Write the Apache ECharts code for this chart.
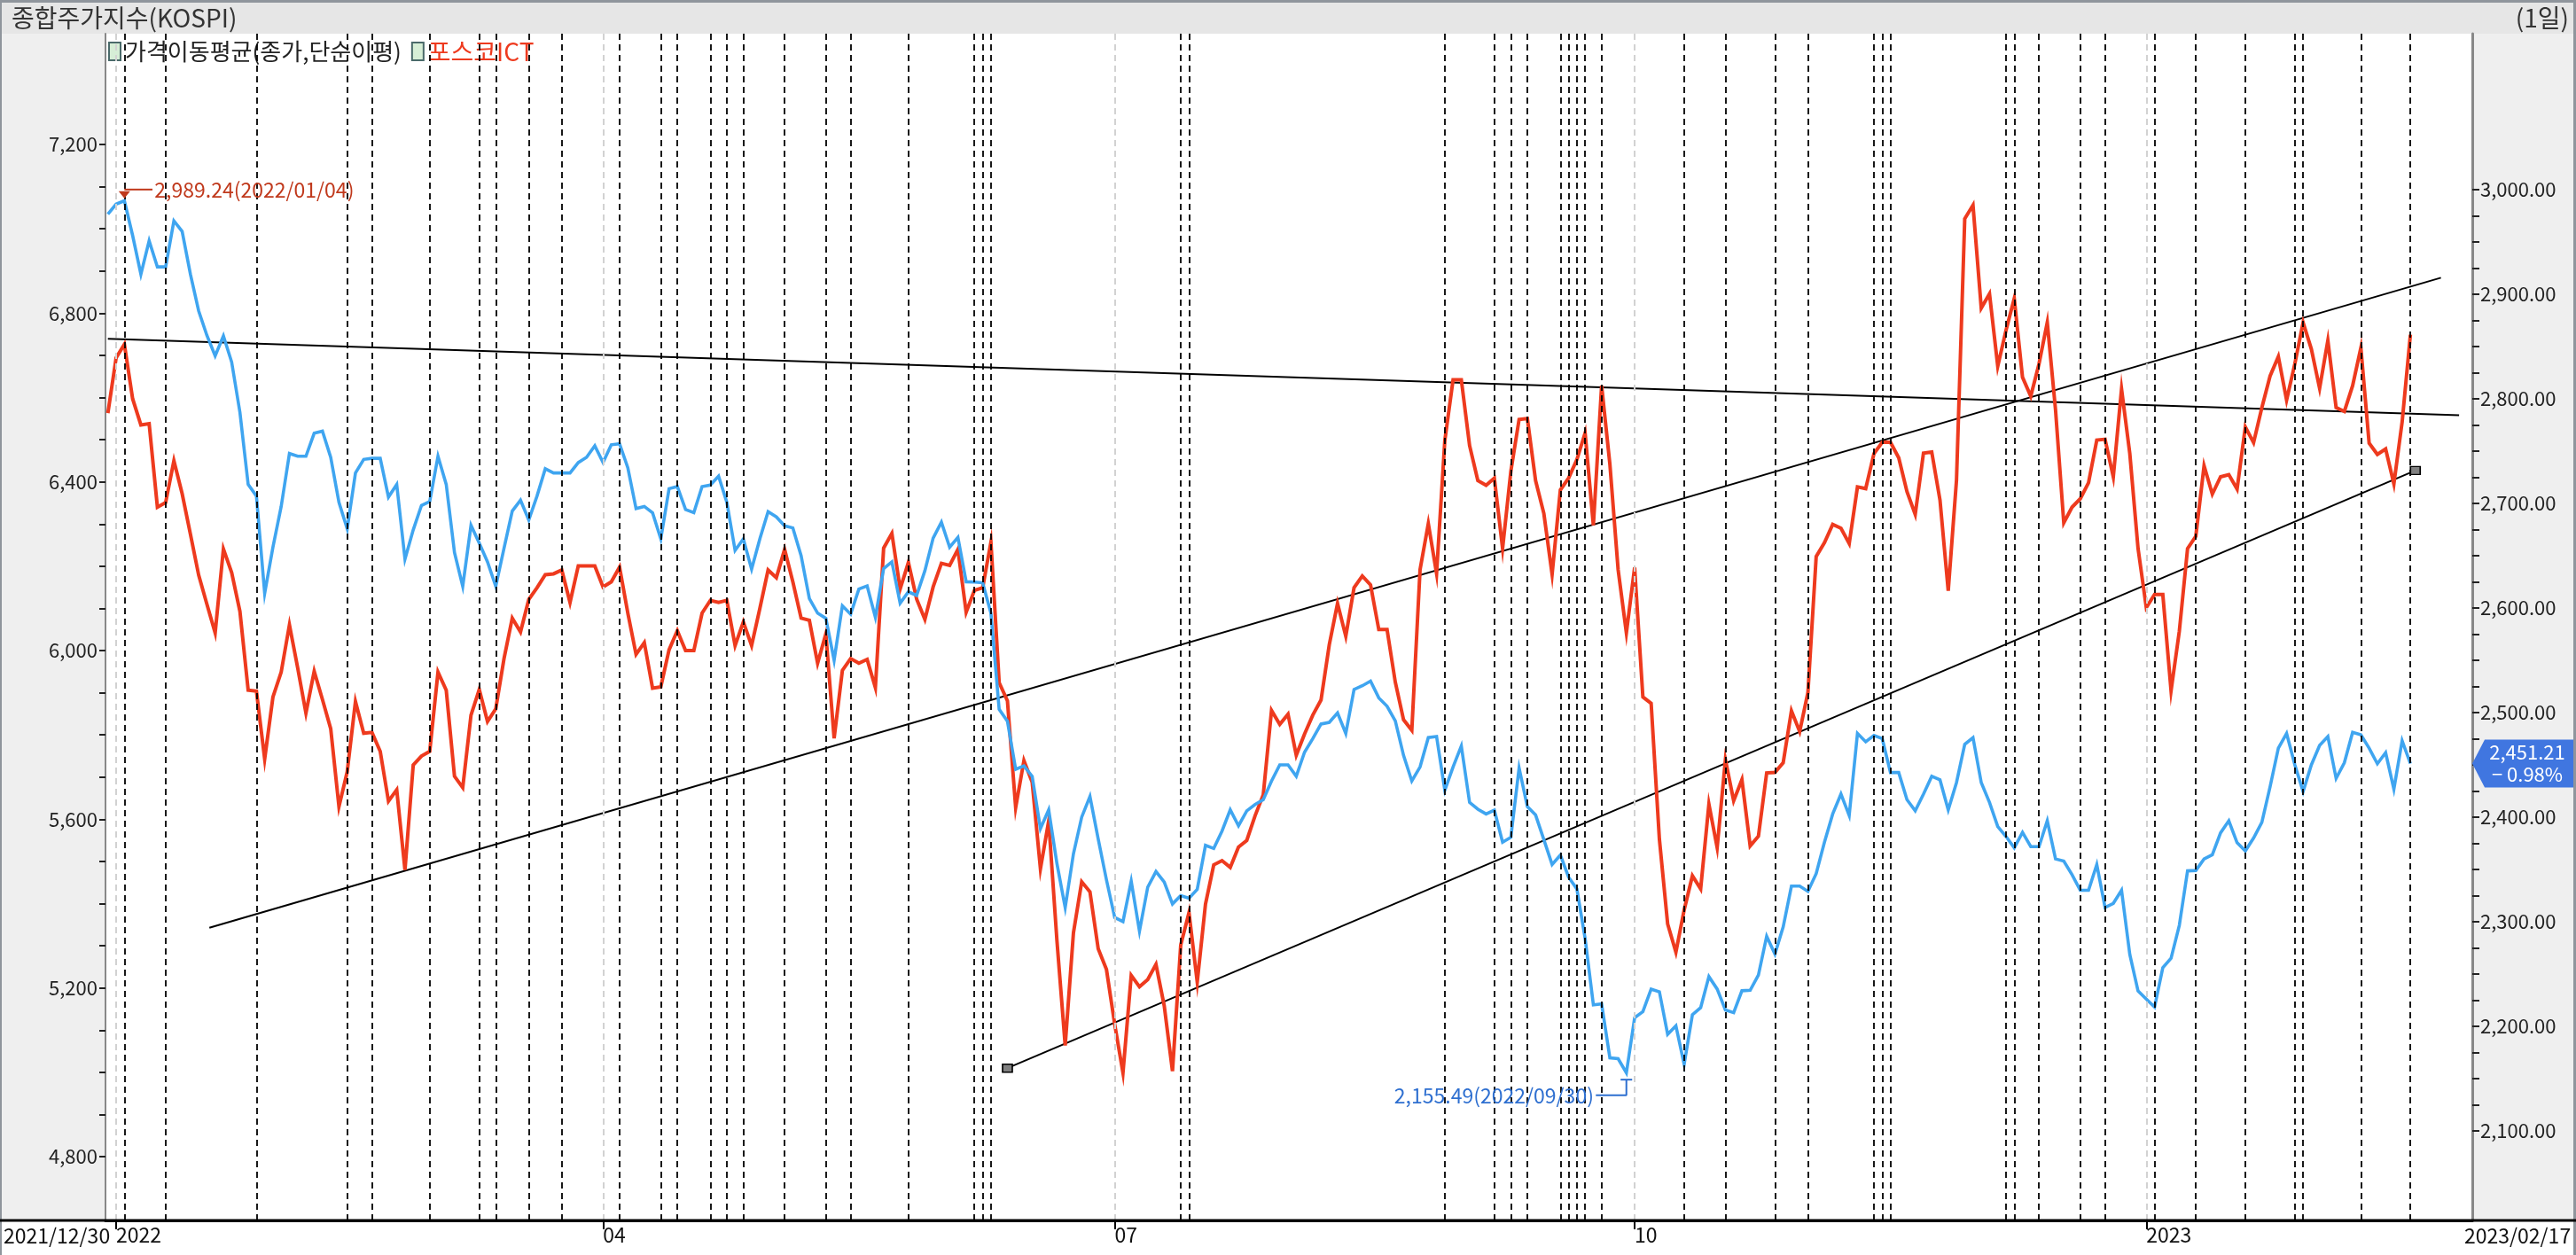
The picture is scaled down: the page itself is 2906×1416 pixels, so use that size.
<!DOCTYPE html>
<html><head><meta charset="utf-8">
<style>html,body{margin:0;padding:0;background:#fff}#c{width:2906px;height:1416px}</style>
<script src="https://cdn.jsdelivr.net/npm/echarts@6/dist/echarts.min.js"></script>
</head><body><div id="c"></div>
<script>
// One value per trading day, 2021/12/30 = day 0
const posco = [
6563,6694,6726,6597,6535,6538,6340,6351,6450,6372,
6276,6179,6110,6042,6241,6185,6093,5906,5904,5743,
5890,5949,6061,5959,5852,5951,5884,5815,5630,5713,
5879,5804,5806,5761,5643,5670,5480,5729,5750,5761,
5949,5906,5702,5675,5847,5908,5832,5862,5981,6077,
6044,6121,6149,6180,6182,6191,6114,6201,6201,6201,
6151,6163,6198,6089,5991,6019,5911,5914,6002,6047,
6000,6000,6089,6119,6114,6119,6012,6068,6012,6100,
6191,6173,6240,6163,6077,6072,5970,6040,5792,5953,
5981,5970,5979,5912,6243,6278,6146,6209,6122,6074,
6151,6207,6202,6240,6091,6143,6149,6257,5924,5881,
5628,5739,5688,5483,5596,5312,5064,5331,5452,5428,
5293,5244,5114,4999,5230,5203,5220,5256,5158,5003,
5302,5379,5214,5399,5492,5502,5486,5534,5550,5608,
5658,5858,5825,5849,5752,5802,5847,5883,6014,6112,
6034,6149,6177,6156,6050,6050,5925,5836,5811,6192,
6301,6183,6498,6642,6642,6486,6403,6392,6409,6242,
6425,6548,6550,6403,6325,6181,6381,6409,6453,6516,
6297,6628,6442,6192,6042,6197,5890,5875,5553,5352,
5285,5385,5466,5435,5636,5533,5741,5644,5694,5537,
5560,5710,5711,5734,5857,5808,5901,6223,6256,6299,
6290,6254,6388,6384,6467,6494,6494,6457,6377,6323,
6468,6471,6357,6142,6404,7024,7056,6812,6846,6674,
6759,6835,6648,6603,6680,6778,6571,6303,6340,6360,
6398,6499,6501,6412,6620,6467,6242,6102,6133,6133,
5905,6046,6242,6271,6438,6371,6412,6417,6383,6530,
6493,6576,6651,6697,6594,6680,6778,6715,6622,6735,
6576,6567,6628,6718,6492,6465,6478,6395,6542,6749];
const kospi = [
2976.5,2986,2989.24,2956,2919,2951,2926,2926,2970,2960,
2919,2884,2860.5,2841,2860,2835,2787,2718,2707,2614,
2658,2697,2747.6,2745,2745,2767,2769,2744,2701,2675.6,
2729,2742,2743,2743,2706,2718,2646.6,2674.6,2698,2701.7,
2745,2718,2653,2620.6,2679,2662,2644,2620.6,2657,2692.6,
2703,2684,2707,2733,2729,2729,2729,2739,2744,2755,
2739,2756,2757,2734,2695,2697,2691,2666,2714,2716,
2694,2691,2716,2717.5,2726,2701,2655,2666,2637,2666,
2692,2687,2678.5,2676.5,2650,2609,2595,2590,2550,2602,
2594,2618,2621,2591,2637.6,2644,2604.5,2615.4,2612,2635.6,
2666.8,2682,2658,2667.5,2625,2624.7,2624,2595,2503,2491.7,
2445.7,2449,2439,2389,2407,2355.5,2313.5,2365,2400,2419.7,
2379,2340,2304,2300,2338.8,2291,2333,2348,2338,2317,
2325,2322.4,2331,2373,2370,2386.6,2407,2391.7,2406,2412,
2416.6,2434.5,2450,2450,2439,2462,2475,2489,2490.6,2499.6,
2480,2522,2525.6,2530,2514,2506,2492,2459,2434.5,2448,
2476,2477,2425.6,2448,2468,2414,2407.6,2403,2406.7,2376,
2380.7,2447,2410,2402,2378.5,2354.7,2363.7,2342.6,2331.4,2284,
2220.5,2221.4,2169.8,2169,2155.49,2208.3,2214,2235.6,2233,2192.4,
2200.5,2163.7,2211,2217.8,2247.5,2235.6,2215.6,2213,2234,2234.5,
2249,2286,2269,2295,2334,2334,2329,2346,2376,2403,
2422,2401.5,2480,2472,2478,2475,2442.6,2442.6,2416.7,2406,
2422,2439,2435.6,2407,2433,2469.6,2476,2433,2414,2391,
2381.5,2370.7,2385.4,2371.8,2371.8,2396.5,2360,2358,2345,2330,
2330,2354.6,2313.7,2317.5,2330,2268.6,2233.8,2226,2218.4,2256,
2265,2296.5,2348.6,2349,2360,2364,2385,2396.5,2375.5,2367.7,
2380,2395,2429,2466,2480,2450,2424.4,2450,2468.6,2477,
2437,2452,2481,2478.8,2466,2451,2461.6,2426.7,2473,2451.21];

const kospiName = '가격이동평균(종가,단순이평)';
const poscoName = '포스코ICT';
const periodDays = [1,60,122,185,247];
const periodLabels = ['2022','04','07','10','2023'];
const eventDays = [2,7,18,29,32,39,45,47,51,55,62,67,69,73,75,77,82,87,90,97,105,106,107,130,131,162,168,170,172,176,177,178,179,181,191,196,202,206,214,215,216,230,231,234,239,242,248,253,259,265,266,273,279];
const leftLabels = [4800,5200,5600,6000,6400,6800,7200];
const leftTicks = [4800,4900,5000,5100,5200,5300,5400,5500,5600,5700,5800,5900,6000,6100,6200,6300,6400,6500,6600,6700,6800,6900,7000,7100,7200];
const rightLabels = [2100,2200,2300,2400,2500,2600,2700,2800,2900,3000];
const rightTicks = [2100,2125,2150,2175,2200,2225,2250,2275,2300,2325,2350,2375,2400,2425,2450,2475,2500,2525,2550,2575,2600,2625,2650,2675,2700,2725,2750,2775,2800,2825,2850,2875,2900,2925,2950,2975,3000];
const trendFlat = [[0,6739],[284.9,6558]];
const trendUpper = [[12.3,5343],[282.7,6884]];
const trendLower = [[109,5010],[279.6,6427]];
const kospiHigh = {day:2, value:2989.24, date:'2022/01/04', labelLevel:3000};
const kospiLow = {day:184, value:2155.49, date:'2022/09/30', labelLevel:2134, capLevel:2149};
const lastChange = '− 0.98%';

const FONT = '"Noto Sans CJK KR","Noto Sans",sans-serif';
const RED = '#ee3a1e', BLUE = '#3fa5f0';
const fmt = (v,d) => v.toLocaleString('en-US',{minimumFractionDigits:d,maximumFractionDigits:d});
const pairs = a => a.map((v,i)=>[i,v]);
const trend = (data,sym) => ({type:'line',data,yAxisIndex:0,z:3,silent:true,animation:false,
  showSymbol:!!sym,symbol:sym?'rect':'none',symbolSize:[11,9],
  itemStyle:{color:'#808080',borderColor:'#000',borderWidth:1.5},
  lineStyle:{color:'#000',width:2}});
const annot = (data,color) => ({type:'line',data,yAxisIndex:1,z:6,silent:true,animation:false,symbol:'none',lineStyle:{color,width:2}});
const xMin=-0.29, xMax=286.5;

const chart = echarts.init(document.getElementById('c'),null,{renderer:'canvas'});
chart.setOption({
  animation:false,
  backgroundColor:'#efefef',
  textStyle:{fontFamily:FONT},
  title:[{text:'종합주가지수(KOSPI)',left:8,top:1,textStyle:{fontSize:28,fontWeight:'normal',color:'#333',fontFamily:FONT}},
         {text:'(1일)',right:3,top:1,textStyle:{fontSize:28,fontWeight:'normal',color:'#333',fontFamily:FONT}}],
  legend:{left:122,top:44,padding:0,itemWidth:13,itemHeight:20,itemGap:11,selectedMode:false,
    data:[{name:kospiName,icon:'rect',itemStyle:{color:'#d6eed6',borderColor:'#4a6a6a',borderWidth:2},textStyle:{color:'#222',fontSize:26,fontFamily:FONT}},
          {name:poscoName,icon:'rect',itemStyle:{color:'#d6eed6',borderColor:'#4a6a6a',borderWidth:2},textStyle:{color:RED,fontSize:28,fontFamily:FONT}}]},
  grid:{left:119,right:117,top:38,bottom:39,show:true,backgroundColor:'#fff',borderWidth:0},
  xAxis:{type:'value',min:xMin,max:xMax,splitLine:{show:false},
    axisLine:{show:true,onZero:false,lineStyle:{color:'#000',width:3}},
    axisTick:{show:true,customValues:periodDays,length:10,lineStyle:{color:'#000',width:2}},
    axisLabel:{customValues:periodDays,formatter:v=>periodLabels[periodDays.indexOf(v)]||'',align:'left',margin:5,fontSize:23,color:'#111',fontFamily:FONT}},
  yAxis:[
   {type:'value',position:'left',min:4649,max:7462.6,splitLine:{show:false},
    axisLine:{show:true,onZero:false,lineStyle:{color:'#888',width:2}},
    axisTick:{show:true,customValues:leftTicks,length:7,lineStyle:{color:'#222',width:2}},
    axisLabel:{customValues:leftLabels,formatter:v=>fmt(v,0),margin:9,fontSize:22,color:'#222',fontFamily:FONT}},
   {type:'value',position:'right',min:2014.4,max:3149,splitLine:{show:false},
    axisLine:{show:true,onZero:false,lineStyle:{color:'#888',width:3}},
    axisTick:{show:true,customValues:rightTicks,length:8,lineStyle:{color:'#222',width:2}},
    axisLabel:{customValues:rightLabels,formatter:v=>fmt(v,2),margin:9,fontSize:22,color:'#222',fontFamily:FONT}}
  ],
  series:[
   trend(trendFlat), trend(trendUpper), trend(trendLower,true),
   {name:poscoName,type:'line',yAxisIndex:0,z:4,data:pairs(posco),showSymbol:false,symbol:'none',smooth:false,
    itemStyle:{color:RED},lineStyle:{color:RED,width:4,join:'miter'}},
   {name:kospiName,type:'line',yAxisIndex:1,z:4,data:pairs(kospi),showSymbol:false,symbol:'none',smooth:false,
    itemStyle:{color:BLUE},lineStyle:{color:BLUE,width:3.6,join:'miter'},
    markPoint:{silent:true,animation:false,data:[{
      coord:[xMax,kospi[kospi.length-1]],
      symbol:'path://M0 27 L14 0 L116 0 L116 54 L14 54 Z',symbolSize:[116,54],symbolOffset:[58,0],
      itemStyle:{color:'#4076e0'},
      label:{show:true,position:'inside',offset:[4,0],formatter:fmt(kospi[kospi.length-1],2)+'\n'+lastChange,color:'#fff',fontSize:22,lineHeight:25,fontFamily:FONT}
    }]}},
   {type:'line',data:[],yAxisIndex:0,z:5,silent:true,animation:false,
    markLine:{silent:true,animation:false,symbol:'none',label:{show:false},
      data:[...periodDays.map(d=>({xAxis:d,lineStyle:{color:'#d2d2d2',width:2,type:[7,5]}})),
            ...eventDays.map(d=>({xAxis:d,lineStyle:{color:'#000',width:1.8,type:[7,5]}}))]}},
   annot([[kospiHigh.day,kospiHigh.labelLevel],[kospiHigh.day+3.4,kospiHigh.labelLevel]],'#c0391c'),
   {type:'line',data:[],yAxisIndex:1,z:6,silent:true,animation:false,
    markPoint:{silent:true,animation:false,data:[
     {coord:[kospiHigh.day,kospiHigh.labelLevel-5],symbol:'triangle',symbolRotate:180,symbolSize:[13,8],itemStyle:{color:'#c0391c'},label:{show:false}},
     {coord:[kospiHigh.day+3.6,kospiHigh.labelLevel],symbol:'rect',symbolSize:1,itemStyle:{color:'transparent'},
      label:{show:true,position:'right',distance:0,formatter:fmt(kospiHigh.value,2)+'('+kospiHigh.date+')',color:'#c0391c',fontSize:23,fontFamily:FONT}},
     {coord:[kospiLow.day-3.9,kospiLow.labelLevel],symbol:'rect',symbolSize:1,itemStyle:{color:'transparent'},
      label:{show:true,position:'left',distance:0,formatter:fmt(kospiLow.value,2)+'('+kospiLow.date+')',color:'#2e6fd0',fontSize:23,fontFamily:FONT}}
    ]}},
   annot([[kospiLow.day-3.7,kospiLow.labelLevel],[kospiLow.day,kospiLow.labelLevel],[kospiLow.day,kospiLow.capLevel]],'#2e6fd0'),
   annot([[kospiLow.day-0.7,kospiLow.capLevel],[kospiLow.day+0.7,kospiLow.capLevel]],'#2e6fd0')
  ],
  graphic:[
   {type:'rect',z:-1,shape:{x:0,y:1377,width:2906,height:39},style:{fill:'#fff'}},
   {type:'rect',z:-1,shape:{x:0,y:0,width:2906,height:38},style:{fill:'#e6e6e6'}},
   {type:'rect',z:10,shape:{x:0,y:0,width:2906,height:3},style:{fill:'#8f959c'}},
   {type:'rect',z:10,shape:{x:0,y:0,width:2,height:1416},style:{fill:'#8f959c'}},
   {type:'rect',z:10,shape:{x:2903,y:0,width:3,height:1416},style:{fill:'#8f959c'}},
   {type:'rect',z:10,shape:{x:0,y:1375.5,width:2906,height:3},style:{fill:'#000'}},
   {type:'text',z:10,x:4,y:1383,style:{text:'2021/12/30',font:'23px '+FONT,fill:'#111'}},
   {type:'text',z:10,x:2780,y:1383,style:{text:'2023/02/17',font:'23px '+FONT,fill:'#111'}}
  ]
});
</script></body></html>
